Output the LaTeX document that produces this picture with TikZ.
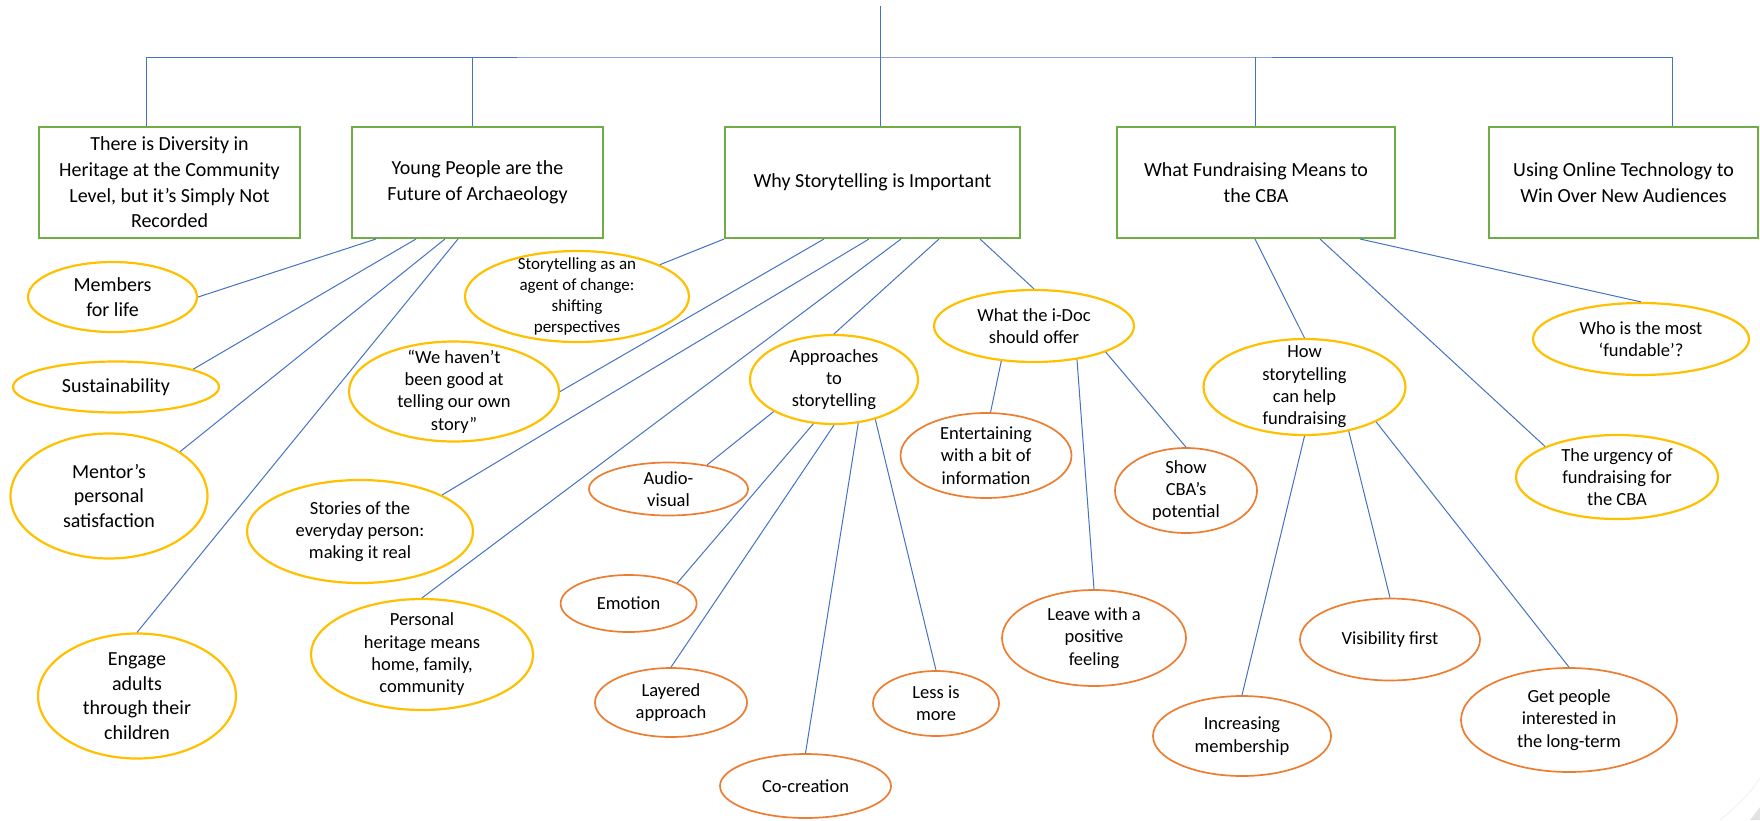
\documentclass[tikz,border=0pt]{standalone}
\usepackage{fontspec}
\setmainfont{Carlito}
\usetikzlibrary{shapes.geometric,calc}
\definecolor{bl}{HTML}{4472C4}
\definecolor{gr}{HTML}{70AD47}
\definecolor{ye}{HTML}{FFC000}
\definecolor{orn}{HTML}{ED7D31}
\begin{document}
\begin{tikzpicture}[x=1pt,y=-1pt,
  conn/.style={draw=bl, line width=1pt},
  topic/.style={draw=gr, line width=2pt, rectangle, inner sep=0pt, minimum height=111pt, align=center, font=\fontsize{20}{25.6}\selectfont},
  yel/.style={draw=ye, line width=2.2pt, ellipse, inner sep=0pt},
  org/.style={draw=orn, line width=1.7pt, ellipse, inner sep=0pt},
  big/.style={label={[align=center,font=\fontsize{20}{24.5}\selectfont]center:{#1}}},
  mid/.style={label={[align=center,font=\fontsize{18.5}{22.3}\selectfont]center:{#1}}},
  sml/.style={label={[align=center,font=\fontsize{17}{20.7}\selectfont]center:{#1}}},
  sz/.style 2 args={minimum width=#1pt, minimum height=#2pt},
]
\useasboundingbox (0,0) rectangle (1760,820);

% topic boxes
\node[topic, minimum width=261pt] (b1) at (169.5,182.5) {There is Diversity in\\Heritage at the Community\\Level, but it’s Simply Not\\Recorded};
\node[topic, minimum width=251pt] (b2) at (477.5,182.5) {Young People are the\\Future of Archaeology};
\node[topic, minimum width=295pt] (b3) at (872.5,182.5) {Why Storytelling is Important};
\node[topic, minimum width=278pt] (b4) at (1256,182.5) {What Fundraising Means to\\the CBA};
\node[topic, minimum width=269pt] (b5) at (1623.5,182.5) {Using Online Technology to\\Win Over New Audiences};

% yellow ellipses
\node[yel, sz={169}{70}, big={Members\\for life}] (mem) at (112.5,297) {};
\node[yel, sz={206}{51}, big={Sustainability}] (sus) at (116,387) {};
\node[yel, sz={197}{125}, big={Mentor’s\\personal\\satisfaction}] (men) at (109,496) {};
\node[yel, sz={198}{125}, big={Engage\\adults\\through their\\children}] (eng) at (137,696) {};
\node[yel, sz={224}{91}, sml={Storytelling as an\\agent of change:\\shifting\\perspectives}] (agt) at (577,296.5) {};
\node[yel, sz={210}{100}, mid={“We haven’t\\been good at\\telling our own\\story”}] (wh) at (454,391.5) {};
\node[yel, sz={226}{103}, mid={Stories of the\\everyday person:\\making it real}] (sto) at (360,531.5) {};
\node[yel, sz={222}{111}, mid={Personal\\heritage means\\home, family,\\community}] (per) at (422,654.5) {};
\node[yel, sz={168}{89}, mid={Approaches\\to\\storytelling}] (app) at (834,379.5) {};
\node[yel, sz={200}{72}, mid={What the i-Doc\\should offer}] (idoc) at (1034,326) {};
\node[yel, sz={202}{96}, mid={How\\storytelling\\can help\\fundraising}] (how) at (1304.5,387) {};
\node[yel, sz={216}{72}, mid={Who is the most\\‘fundable’?}] (who) at (1641,339) {};
\node[yel, sz={202}{84}, mid={The urgency of\\fundraising for\\the CBA}] (urg) at (1617,477) {};

% orange ellipses
\node[org, sz={159}{53}, mid={Audio-\\visual}] (av) at (668.5,489) {};
\node[org, sz={136}{57}, mid={Emotion}] (emo) at (628.6,603.5) {};
\node[org, sz={152}{69}, mid={Layered\\approach}] (lay) at (671,702.5) {};
\node[org, sz={126}{65}, mid={Less is\\more}] (less) at (936,703.5) {};
\node[org, sz={171}{64}, mid={Co-creation}] (co) at (805.5,786) {};
\node[org, sz={171}{85}, mid={Entertaining\\with a bit of\\information}] (ent) at (986,455.5) {};
\node[org, sz={142}{85}, mid={Show\\CBA’s\\potential}] (show) at (1186,490.5) {};
\node[org, sz={184}{96}, mid={Leave with a\\positive\\feeling}] (leave) at (1094,638) {};
\node[org, sz={180}{82}, mid={Visibility first}] (vis) at (1390,639.5) {};
\node[org, sz={178}{80}, mid={Increasing\\membership}] (inc) at (1242,736) {};
\node[org, sz={216}{104}, mid={Get people\\interested in\\the long-term}] (get) at (1569,720) {};

% top tree
\coordinate (top) at (880,6);
\coordinate (bus) at (880,57);
\coordinate (p1) at ([xshift=-23.5pt]b1.north);
\coordinate (p2) at ([xshift=-5.5pt]b2.north);
\coordinate (p3) at ([xshift=7.5pt]b3.north);
\coordinate (p4) at ([xshift=-1pt]b4.north);
\coordinate (p5) at ([xshift=48.5pt]b5.north);
\draw[conn] (top) -- (p3);
\draw[conn] (p1) |- (bus) -| (p5);
\draw[conn] (p2 |- bus) -- (p2);
\draw[conn] (p4 |- bus) -- (p4);

% Young People
\draw[conn] ([xshift=25pt]b2.south west) -- (mem.east);
\draw[conn] ([xshift=65pt]b2.south west) -- (sus.13.7);
\draw[conn] ([xshift=94pt]b2.south west) -- (men.32.4);
\draw[conn] ([xshift=107pt]b2.south west) -- (eng.north);

% Why Storytelling
\draw[conn] (b3.south west) -- (agt.21.6);
\draw[conn] ([xshift=100pt]b3.south west) -- (wh.east);
\draw[conn] ([xshift=145pt]b3.south west) -- (sto.24.5);
\draw[conn] ([xshift=177pt]b3.south west) -- (per.north);
\draw[conn] ([xshift=215pt]b3.south west) -- (app.north);
\draw[conn] ([xshift=256pt]b3.south west) -- (idoc.north);

% Approaches
\draw[conn] (app.208.4) -- (av.32);
\draw[conn] (app.245) -- (emo.23.2);
\draw[conn] (app.south) -- (lay.north);
\draw[conn] (app.299.2) -- (co.north);
\draw[conn] (app.316.5) -- (less.north);

% i-Doc
\draw[conn] (idoc.227.5) -- (ent.84);
\draw[conn] (idoc.322) -- (leave.north);
\draw[conn] (idoc.340.2) -- (show.north);

% Fundraising
\draw[conn] ([xshift=139pt]b4.south west) -- (how.north);
\draw[conn] ([xshift=204pt]b4.south west) -- (urg.157.4);
\draw[conn] ([xshift=244pt]b4.south west) -- (who.north);

% How storytelling
\draw[conn] (how.south) -- (inc.north);
\draw[conn] (how.315) -- (vis.north);
\draw[conn] (how.334.2) -- (get.north);

% faint page-curl artefact, bottom right
\draw[gray!10, line width=1pt] (1720,820) .. controls (1737,806) and (1750,794) .. (1760,778);
\fill[gray!22] (1750,820) -- (1760,820) -- (1760,807) -- cycle;
\end{tikzpicture}
\end{document}
